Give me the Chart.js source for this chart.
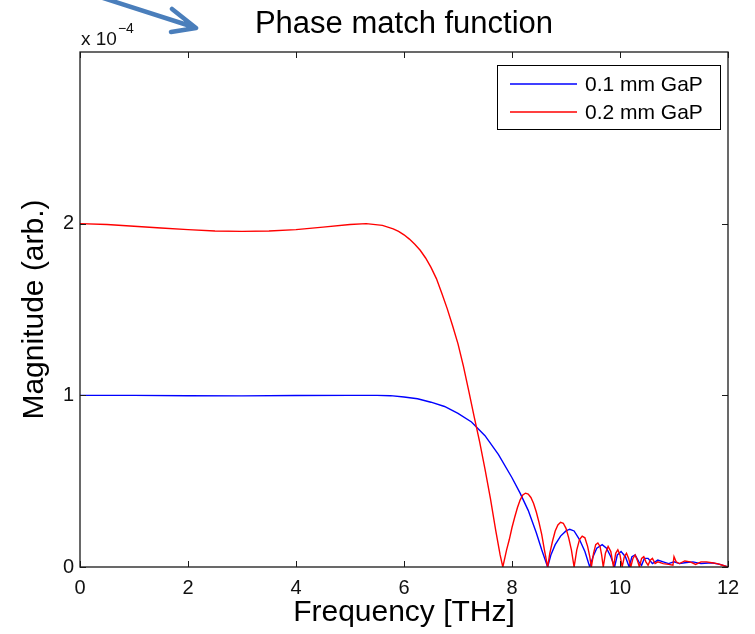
<!DOCTYPE html>
<html>
<head>
<meta charset="utf-8">
<script src="https://cdn.jsdelivr.net/npm/chart.js@4/dist/chart.umd.min.js"></script>
<style>
  html, body { margin: 0; padding: 0; background: #fff; }
  #wrap { width: 755px; height: 634px; }
</style>
</head>
<body>
<div id="wrap"><canvas id="c" width="755" height="634"></canvas></div>
<script>
// ---- data (magnitude in units of 1e-4, frequency in THz) ----
const chartTitle = 'Phase match function';
const seriesLabels = ['0.1 mm GaP', '0.2 mm GaP'];
const xTicks = [0, 2, 4, 6, 8, 10, 12];
const yTicks = [0, 1, 2];

const freqBlue = [0,1,2,3,4,5,5.5,5.75,6.0,6.25,6.5,6.75,7.0,7.25,7.5,7.75,8.0,8.15,8.3,8.45,8.55,8.66,8.72,8.8,8.9,9.0,9.07,9.15,9.25,9.35,9.44,9.5,9.57,9.67,9.75,9.83,9.9,9.95,10.02,10.1,10.17,10.22,10.28,10.35,10.4,10.45,10.52,10.6,10.7,10.8,10.9,11.0,11.1,11.2,11.35,11.5,11.7,11.85,12];
const magBlue  = [1.0,1.0,0.998,0.997,0.999,1.0,1.0,0.998,0.99,0.98,0.96,0.935,0.895,0.845,0.765,0.655,0.52,0.43,0.33,0.2,0.1,0.0,0.07,0.13,0.18,0.21,0.22,0.21,0.16,0.09,0.0,0.06,0.11,0.13,0.11,0.06,0.0,0.07,0.09,0.06,0.0,0.06,0.07,0.03,0.01,0.05,0.05,0.02,0.04,0.03,0.02,0.03,0.02,0.025,0.03,0.02,0.025,0.015,0.0];

const freqRed = [0,0.5,1,1.5,2,2.5,3,3.5,4,4.5,5,5.3,5.6,5.8,5.9,6.0,6.1,6.2,6.3,6.4,6.5,6.6,6.7,6.8,6.9,7.0,7.1,7.2,7.3,7.4,7.5,7.6,7.7,7.78,7.83,7.9,7.95,8.0,8.05,8.1,8.15,8.2,8.25,8.3,8.35,8.4,8.45,8.5,8.55,8.6,8.66,8.7,8.75,8.8,8.85,8.9,8.95,9.0,9.05,9.1,9.15,9.2,9.25,9.3,9.35,9.4,9.44,9.47,9.51,9.55,9.59,9.63,9.66,9.69,9.73,9.78,9.83,9.88,9.92,9.96,10.0,10.04,10.08,10.12,10.16,10.2,10.24,10.28,10.32,10.36,10.4,10.44,10.48,10.52,10.56,10.6,10.65,10.7,10.8,10.9,10.98,11.0,11.04,11.1,11.2,11.3,11.4,11.5,11.6,11.7,11.8,11.9,12];
const magRed  = [2.0,1.995,1.985,1.975,1.965,1.957,1.955,1.957,1.965,1.98,1.995,2.0,1.99,1.97,1.955,1.935,1.91,1.88,1.845,1.80,1.745,1.68,1.595,1.505,1.405,1.30,1.17,1.025,0.875,0.73,0.57,0.40,0.21,0.07,0.0,0.1,0.16,0.23,0.29,0.345,0.39,0.42,0.43,0.425,0.405,0.37,0.32,0.26,0.19,0.1,0.0,0.08,0.15,0.21,0.245,0.26,0.255,0.225,0.17,0.1,0.0,0.1,0.16,0.18,0.17,0.12,0.06,0.0,0.08,0.13,0.14,0.12,0.07,0.0,0.08,0.12,0.09,0.0,0.08,0.1,0.07,0.0,0.06,0.08,0.05,0.0,0.05,0.07,0.04,0.0,0.05,0.06,0.03,0.01,0.04,0.05,0.02,0.03,0.02,0.015,0.01,0.06,0.03,0.02,0.035,0.03,0.015,0.03,0.03,0.025,0.02,0.01,0.0];

const FONT = '"Liberation Sans", Arial, Helvetica, sans-serif';
const colors = ['#0000ff', '#ff0000'];

function pairs(xs, ys) { return xs.map((x, i) => ({ x: x, y: ys[i] })); }

const framePlugin = {
  id: 'frame',
  beforeDraw(chart) {
    const ctx = chart.ctx;
    ctx.save();
    ctx.fillStyle = '#fff';
    ctx.fillRect(0, 0, chart.width, chart.height);
    ctx.restore();
  },
  afterDatasetsDraw(chart) {
    const ctx = chart.ctx;
    const a = chart.chartArea;
    const xs = chart.scales.x, ys = chart.scales.y;
    ctx.save();
    // box
    ctx.strokeStyle = '#1a1a1a';
    ctx.lineWidth = 1.3;
    ctx.strokeRect(a.left, a.top, a.right - a.left, a.bottom - a.top);
    // inward ticks
    const tl = 6;
    ctx.beginPath();
    xTicks.forEach(v => {
      const p = Math.round(xs.getPixelForValue(v)) + 0.5;
      ctx.moveTo(p, a.bottom); ctx.lineTo(p, a.bottom - tl);
      ctx.moveTo(p, a.top); ctx.lineTo(p, a.top + tl);
    });
    yTicks.forEach(v => {
      const p = Math.round(ys.getPixelForValue(v)) + 0.5;
      ctx.moveTo(a.left, p); ctx.lineTo(a.left + tl, p);
      ctx.moveTo(a.right, p); ctx.lineTo(a.right - tl, p);
    });
    ctx.lineWidth = 1;
    ctx.stroke();

    // legend
    const lx = 497, ly = 65, lw = 223, lh = 64;
    ctx.fillStyle = '#fff';
    ctx.fillRect(lx, ly, lw, lh);
    ctx.strokeStyle = '#000';
    ctx.lineWidth = 1;
    ctx.strokeRect(lx + 0.5, ly + 0.5, lw, lh);
    ctx.font = '21px ' + FONT;
    ctx.textBaseline = 'middle';
    ctx.textAlign = 'left';
    chart.data.datasets.forEach((ds, i) => {
      const y = ly + 19 + i * 28;
      ctx.strokeStyle = ds.borderColor;
      ctx.lineWidth = 1.5;
      ctx.beginPath();
      ctx.moveTo(510, y); ctx.lineTo(577, y);
      ctx.stroke();
      ctx.fillStyle = '#000';
      ctx.fillText(ds.label, 585, y + 1);
    });

    // title
    ctx.fillStyle = '#000';
    ctx.textAlign = 'center';
    ctx.textBaseline = 'alphabetic';
    ctx.font = '31px ' + FONT;
    ctx.fillText(chartTitle, (a.left + a.right) / 2, 33);

    // multiplier label
    ctx.textAlign = 'left';
    ctx.fillStyle = '#111';
    ctx.font = '19px ' + FONT;
    ctx.fillText('x 10', 81, 45);
    const w = ctx.measureText('x 10').width;
    ctx.font = '14px ' + FONT;
    ctx.fillText('\u22124', 81 + w + 1, 33);

    // annotation arrow
    ctx.strokeStyle = '#4a7ebb';
    ctx.lineWidth = 4.5;
    ctx.lineCap = 'round';
    ctx.lineJoin = 'round';
    ctx.beginPath();
    ctx.moveTo(100, -3); ctx.lineTo(195, 27.5);
    ctx.moveTo(172, 9); ctx.lineTo(196, 28); ctx.lineTo(171, 32);
    ctx.stroke();
    ctx.restore();
  }
};

new Chart(document.getElementById('c'), {
  type: 'line',
  data: {
    datasets: [
      { label: seriesLabels[0], data: pairs(freqBlue, magBlue), borderColor: colors[0], borderWidth: 1.4, pointRadius: 0, tension: 0, fill: false, order: 1 },
      { label: seriesLabels[1], data: pairs(freqRed, magRed), borderColor: colors[1], borderWidth: 1.4, pointRadius: 0, tension: 0, fill: false, order: 0 }
    ]
  },
  options: {
    responsive: false,
    animation: false,
    devicePixelRatio: 1,
    layout: { padding: { left: 0, right: 27, top: 52, bottom: 0 } },
    plugins: {
      legend: { display: false },
      tooltip: { enabled: false },
      title: { display: false }
    },
    scales: {
      x: {
        type: 'linear',
        min: 0, max: 12,
        afterFit(s) { s.height = 67; },
        afterBuildTicks(s) { s.ticks = xTicks.map(v => ({ value: v })); },
        grid: { display: false, drawTicks: false },
        border: { display: false },
        ticks: { color: '#111', padding: 9, font: { family: FONT, size: 20 }, maxRotation: 0, autoSkip: false },
        title: { display: true, text: 'Frequency [THz]', color: '#000', font: { family: FONT, size: 30, lineHeight: 1.2 }, padding: { top: 0, bottom: 3.4 } }
      },
      y: {
        type: 'linear',
        min: 0, max: 3,
        afterFit(s) { s.width = 80; },
        afterBuildTicks(s) { s.ticks = yTicks.map(v => ({ value: v })); },
        grid: { display: false, drawTicks: false },
        border: { display: false },
        ticks: { color: '#111', padding: 6, font: { family: FONT, size: 20 } },
        title: { display: true, text: 'Magnitude (arb.)', color: '#000', font: { family: FONT, size: 30, lineHeight: 1.2 }, padding: { top: 17, bottom: 0 } }
      }
    }
  },
  plugins: [framePlugin]
});
</script>
</body>
</html>
